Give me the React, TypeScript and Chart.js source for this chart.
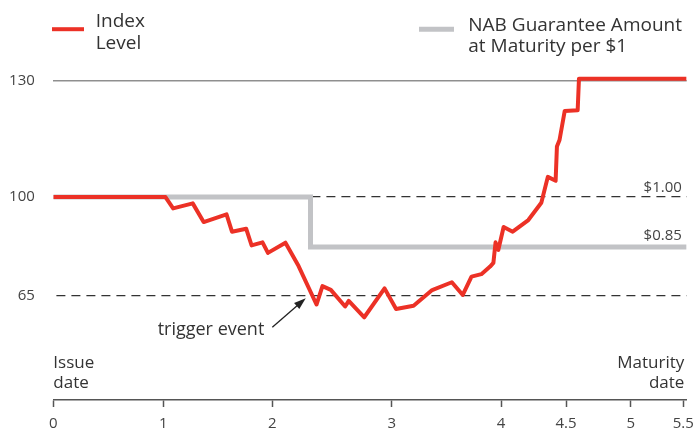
import React, { useEffect, useRef } from 'react';
import { Chart, registerables, LinearScale } from 'chart.js';

// ---------- data ----------
// x axis: years from issue date
const xTickValues = [0, 1, 2, 3, 4, 4.5, 5, 5.5];
const xTickLabels = ['0', '1', '2', '3', '4', '4.5', '5', '5.5'];
// y axis: index level
const yTickValues = [65, 100, 130];
const yTickLabels = ['65', '100', '130'];

const indexYears = [
  0, 1.02, 1.09, 1.27, 1.37, 1.58, 1.63, 1.76, 1.81, 1.91, 1.96, 2.11, 2.22, 2.37,
  2.42, 2.49, 2.61, 2.64, 2.77, 2.94, 3.04, 3.2, 3.37, 3.55, 3.65, 3.73, 3.82, 3.9,
  3.93, 3.95, 3.975, 4.02, 4.09, 4.21, 4.31, 4.36, 4.42, 4.43, 4.45, 4.49, 4.59, 4.6, 5.53,
];
const indexLevel = [
  100, 100, 96.6, 98.1, 92.5, 94.8, 89.6, 90.5, 85.5, 86.4, 82.6, 86.3, 77.2, 61.5,
  69.0, 67.5, 60.7, 63.0, 56.3, 68.1, 59.7, 61.0, 67.4, 70.6, 65.4, 72.9, 73.9, 77.0,
  78.5, 86.4, 83.8, 91.0, 89.6, 93.1, 98.3, 105.2, 104.2, 113.0, 114.7, 122.2, 122.4, 130.5, 130.5,
];

const guaranteeYears = [0, 2.32, 5.53];
const guaranteeLevel = [100, 85, 85];
const guaranteeLabels = ['$1.00', '$0.85'];
const guaranteeLabelLevels = [100, 85];

const seriesNames = ['Index Level', 'NAB Guarantee Amount at Maturity per $1'];
const legendLines = [['Index', 'Level'], ['NAB Guarantee Amount', 'at Maturity per $1']];

const triggerText = 'trigger event';
const triggerTip = [2.28, 64.1];
const triggerTail = [2.0, 52.2];

const startLabel = ['Issue', 'date'];
const endLabel = ['Maturity', 'date'];

// ---------- layout (non-uniform axis spacing of the original graphic) ----------
const X_KNOT_POS = [0, 110, 219, 338.4, 447.7, 512.7, 577.4, 630];
const Y_KNOT_VALUES = [65, 85, 100, 130];
const Y_KNOT_POS = [104, 153, 203, 319.5];

const RED = '#ec3126';
const GRAY = '#c2c3c6';
const TEXT = '#333333';
const FONT = "'Open Sans', 'Noto Sans', sans-serif";

function interp(v: number, ks: number[], ps: number[]) {
  const n = ks.length;
  let i = 0;
  if (v >= ks[n - 1]) i = n - 2;
  else while (i < n - 2 && v > ks[i + 1]) i++;
  return ps[i] + ((v - ks[i]) * (ps[i + 1] - ps[i])) / (ks[i + 1] - ks[i]);
}

const KNOTS: Record<string, { values: number[]; pos: number[] }> = {
  x: { values: xTickValues, pos: X_KNOT_POS },
  y: { values: Y_KNOT_VALUES, pos: Y_KNOT_POS },
};

class PiecewiseScale extends LinearScale {
  static id = 'piecewise';
  static defaults = LinearScale.defaults;
  getPixelForValue(value: any) {
    if (value === null || value === undefined || isNaN(value)) return NaN;
    const k = KNOTS[(this as any).id];
    const a = interp((this as any).min, k.values, k.pos);
    const b = interp((this as any).max, k.values, k.pos);
    return (this as any).getPixelForDecimal((interp(value, k.values, k.pos) - a) / (b - a));
  }
  getValueForPixel(pixel: number) {
    const k = KNOTS[(this as any).id];
    const a = interp((this as any).min, k.values, k.pos);
    const b = interp((this as any).max, k.values, k.pos);
    return interp(a + (this as any).getDecimalForPixel(pixel) * (b - a), k.pos, k.values);
  }
}

Chart.register(...registerables, PiecewiseScale as any);

const annotationPlugin = {
  id: 'annotations',
  afterDraw(chart: any) {
    const { ctx, chartArea } = chart;
    const x = chart.scales.x;
    const y = chart.scales.y;
    const colors = chart.data.datasets.map((d: any) => d.borderColor);
    const widths = chart.data.datasets.map((d: any) => d.borderWidth);
    ctx.save();

    // legend
    const legendX = [52, 419];
    const swatchLen = [32, 35];
    const textDX = [43.7, 49.3];
    const baselines = [[27, 48.5], [30.5, 52]];
    ctx.font = `19px ${FONT}`;
    ctx.textAlign = 'left';
    ctx.textBaseline = 'alphabetic';
    legendLines.forEach((lines, i) => {
      ctx.strokeStyle = colors[i];
      ctx.lineWidth = widths[i];
      ctx.lineCap = 'butt';
      ctx.beginPath();
      ctx.moveTo(legendX[i], 29.2);
      ctx.lineTo(legendX[i] + swatchLen[i], 29.2);
      ctx.stroke();
      ctx.fillStyle = TEXT;
      lines.forEach((t, j) => ctx.fillText(t, legendX[i] + textDX[i], baselines[i][j]));
    });

    // guarantee labels
    ctx.font = `15px ${FONT}`;
    ctx.fillStyle = '#444';
    ctx.textAlign = 'right';
    guaranteeLabels.forEach((t, i) => {
      const py = y.getPixelForValue(guaranteeLabelLevels[i]) - (i === 0 ? 5 : 7);
      ctx.fillText(t, x.getPixelForValue(5.5) - 1.5, py);
    });

    // issue / maturity labels
    ctx.font = `17px ${FONT}`;
    ctx.fillStyle = TEXT;
    ctx.textAlign = 'left';
    startLabel.forEach((t, j) => ctx.fillText(t, x.getPixelForValue(0), chartArea.bottom - 32 + j * 20));
    ctx.textAlign = 'right';
    endLabel.forEach((t, j) => ctx.fillText(t, x.getPixelForValue(5.5) + 1, chartArea.bottom - 32 + j * 20));

    // trigger arrow
    const tx = x.getPixelForValue(triggerTip[0]);
    const ty = y.getPixelForValue(triggerTip[1]);
    const sx = x.getPixelForValue(triggerTail[0]);
    const sy = y.getPixelForValue(triggerTail[1]);
    const ang = Math.atan2(ty - sy, tx - sx);
    const headLen = 12;
    const headW = 4;
    ctx.strokeStyle = '#222';
    ctx.fillStyle = '#222';
    ctx.lineWidth = 1.3;
    ctx.beginPath();
    ctx.moveTo(sx, sy);
    ctx.lineTo(tx - Math.cos(ang) * headLen * 0.8, ty - Math.sin(ang) * headLen * 0.8);
    ctx.stroke();
    const bx = tx - Math.cos(ang) * headLen;
    const by = ty - Math.sin(ang) * headLen;
    ctx.beginPath();
    ctx.moveTo(tx, ty);
    ctx.lineTo(bx + Math.sin(ang) * headW, by - Math.cos(ang) * headW);
    ctx.lineTo(bx - Math.sin(ang) * headW, by + Math.cos(ang) * headW);
    ctx.closePath();
    ctx.fill();
    ctx.font = `18px ${FONT}`;
    ctx.fillStyle = TEXT;
    ctx.textAlign = 'right';
    ctx.fillText(triggerText, sx - 8, sy + 8);

    ctx.restore();
  },
};

export default function App() {
  const ref = useRef<HTMLCanvasElement | null>(null);
  useEffect(() => {
    if (!ref.current) return;
    const chart = new Chart(ref.current, {
      type: 'line',
      data: {
        datasets: [
          {
            label: seriesNames[0],
            data: indexYears.map((xv, i) => ({ x: xv, y: indexLevel[i] })),
            borderColor: RED,
            borderWidth: 4,
            pointRadius: 0,
            tension: 0,
            fill: false,
            borderJoinStyle: 'round',
            borderCapStyle: 'butt',
          },
          {
            label: seriesNames[1],
            data: guaranteeYears.map((xv, i) => ({ x: xv, y: guaranteeLevel[i] })),
            borderColor: GRAY,
            borderWidth: 5,
            pointRadius: 0,
            stepped: 'before',
            fill: false,
            borderJoinStyle: 'miter',
            borderCapStyle: 'butt',
          },
        ],
      } as any,
      options: {
        responsive: false,
        animation: false,
        layout: { padding: { top: 69, right: 8.3, bottom: 0, left: 0 } },
        plugins: { legend: { display: false }, tooltip: { enabled: false } },
        scales: {
          x: {
            type: 'piecewise',
            position: 'bottom',
            min: 0,
            max: 5.532,
            bounds: 'data',
            afterBuildTicks: (s: any) => {
              s.ticks = xTickValues.map((v) => ({ value: v }));
            },
            afterFit: (s: any) => {
              s.height = 32;
              s.paddingLeft = 0;
              s.paddingRight = 0;
            },
            ticks: {
              autoSkip: false,
              maxRotation: 0,
              padding: 8,
              color: '#444',
              font: { family: FONT, size: 15 },
              callback: (_v: any, i: number) => xTickLabels[i],
            },
            grid: {
              display: true,
              drawOnChartArea: false,
              drawTicks: true,
              tickLength: 7,
              tickColor: '#555',
              tickWidth: 1.5,
            },
            border: { display: true, color: '#555', width: 1.5 },
          },
          y: {
            type: 'piecewise',
            position: 'left',
            min: 22.5,
            max: 133,
            bounds: 'data',
            afterBuildTicks: (s: any) => {
              s.ticks = yTickValues.map((v) => ({ value: v }));
            },
            afterFit: (s: any) => {
              s.width = 53.3;
              s.paddingTop = 0;
              s.paddingBottom = 0;
            },
            ticks: {
              padding: 18.5,
              color: '#444',
              font: { family: FONT, size: 15 },
              callback: (_v: any, i: number) => yTickLabels[i],
            },
            grid: {
              drawTicks: false,
              color: (c: any) => (c.tick && c.tick.value === 130 ? '#8f8f8f' : '#333'),
              lineWidth: (c: any) => (c.tick && c.tick.value === 130 ? 1.5 : 1.2),
            },
            border: {
              display: false,
              dash: (c: any) => (c.tick && c.tick.value !== 130 ? [9, 6] : []),
              dashOffset: -3.4,
            },
          },
        } as any,
      },
      plugins: [annotationPlugin],
    });
    return () => chart.destroy();
  }, []);
  return (
    <div style={{ position: 'absolute', left: 0, top: 0, width: 695, height: 432, background: '#fff' }}>
      <canvas ref={ref} width={695} height={432} />
    </div>
  );
}
